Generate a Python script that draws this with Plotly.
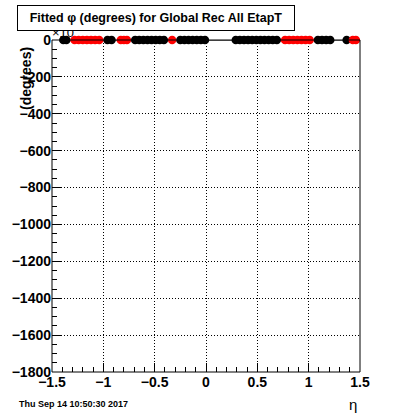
import plotly.graph_objects as go

# ---- data ----
black_eta = [-1.39, -1.36, -0.96, -0.92, -0.69, -0.65, -0.61, -0.57, -0.53, -0.49,
             -0.45, -0.41, -0.25, -0.21, -0.17, -0.13, -0.09, -0.05, -0.01,
             0.29, 0.33, 0.37, 0.41, 0.45, 0.49, 0.53, 0.57, 0.61, 0.65, 0.69,
             1.09, 1.13, 1.17, 1.21, 1.37]
black_phi = [0, 0, 0, 0, 0, 0, 0, 0, 0, 0,
             0, 0, 0, 0, 0, 0, 0, 0, 0,
             0, 0, 0, 0, 0, 0, 0, 0, 0, 0, 0,
             0, 0, 0, 0, 0]
red_eta = [-1.28, -1.24, -1.20, -1.16, -1.12, -1.08, -1.04, -0.83, -0.80, -0.77,
           -0.33, 0.77, 0.81, 0.85, 0.89, 0.93, 0.97, 1.01, 1.43, 1.46]
red_phi = [0, 0, 0, 0, 0, 0, 0, 0, 0, 0,
           0, 0, 0, 0, 0, 0, 0, 0, 0, 0]

y_ticks = [0, -200, -400, -600, -800, -1000, -1200, -1400, -1600, -1800]
x_ticks = [-1.5, -1, -0.5, 0, 0.5, 1, 1.5]
x_tick_text = ["\u22121.5", "\u22121", "\u22120.5", "0", "0.5", "1", "1.5"]

title_text = "Fitted \u03c6 (degrees) for Global Rec All EtapT"
ytitle_text = "(degrees)"
xtitle_text = "\u03b7"
date_text = "Thu Sep 14 10:50:30 2017"

# ---- layout helpers ----
L, R, T, B = 41, 360, 40, 372
W, H = 400, 414
def px(p):
    return (p - L) / (R - L)
def py(p):
    return (B - p) / (B - T)

pts = sorted(zip(black_eta + red_eta, black_phi + red_phi))
all_eta = [p[0] for p in pts]
all_phi = [p[1] for p in pts]

FONT = "Liberation Sans"

fig = go.Figure()
fig.add_trace(go.Scatter(x=[-1.5], y=[0], mode="text", text=["\u00d710"],
                         textposition="top right",
                         textfont=dict(family=FONT, size=13, color="black"),
                         cliponaxis=False, showlegend=False, hoverinfo="skip"))
fig.add_trace(go.Scatter(x=all_eta, y=all_phi, mode="lines",
                         line=dict(color="black", width=1),
                         cliponaxis=False, showlegend=False))
fig.add_trace(go.Scatter(x=black_eta, y=black_phi, mode="markers",
                         marker=dict(color="black", size=8.5, line=dict(width=0)),
                         cliponaxis=False, showlegend=False))
fig.add_trace(go.Scatter(x=red_eta, y=red_phi, mode="markers",
                         marker=dict(color="red", size=8.5, line=dict(width=0)),
                         cliponaxis=False, showlegend=False))

axis_common = dict(
    showline=False, zeroline=False, ticks="inside", ticklen=9, tickwidth=1,
    tickcolor="black", showgrid=True, gridcolor="black", griddash="1px,2px",
    gridwidth=1,
    tickfont=dict(family=FONT, size=14, color="black", weight="bold"),
)

fig.update_layout(
    width=W, height=H,
    margin=dict(l=L, r=W - R, t=T, b=H - B, pad=0),
    paper_bgcolor="white", plot_bgcolor="white",
    xaxis=dict(range=[-1.5, 1.5], tickvals=x_ticks, ticktext=x_tick_text,
               minor=dict(dtick=0.1, tick0=-1.5, ticks="inside", ticklen=5,
                          tickcolor="black", showgrid=False),
               **axis_common),
    yaxis=dict(range=[-1800, 0], tickvals=y_ticks,
               minor=dict(dtick=50, tick0=0, ticks="inside", ticklen=5,
                          tickcolor="black", showgrid=False),
               **axis_common),
    shapes=[dict(type="rect", xref="x domain", yref="y domain", x0=0, x1=1,
                 y0=0, y1=1, line=dict(color="black", width=1),
                 fillcolor="rgba(0,0,0,0)", layer="above")],
    annotations=[
        dict(text=ytitle_text, xref="paper", yref="paper", x=px(14), y=py(78),
             xanchor="center", yanchor="middle", textangle=-90, showarrow=False,
             font=dict(family=FONT, size=14, color="black", weight="bold")),
        dict(text=title_text, xref="paper", yref="paper", x=px(5), y=py(5),
             xanchor="left", yanchor="top", showarrow=False,
             width=276, height=24, borderpad=0, borderwidth=1,
             bordercolor="black", bgcolor="white",
             font=dict(family=FONT, size=12.5, color="black", weight="bold")),
        dict(text=date_text, xref="paper", yref="paper", x=px(5), y=py(404),
             xanchor="left", yanchor="middle", showarrow=False,
             font=dict(family=FONT, size=9, color="black", weight="bold")),
        dict(text=xtitle_text, xref="paper", yref="paper", x=px(359), y=py(404),
             xanchor="right", yanchor="middle", showarrow=False,
             font=dict(family=FONT, size=15, color="black")),
    ],
)

fig.write_html("out.html", config={"displayModeBar": False},
               post_script="document.body.style.margin='0';document.body.style.padding='0';")
